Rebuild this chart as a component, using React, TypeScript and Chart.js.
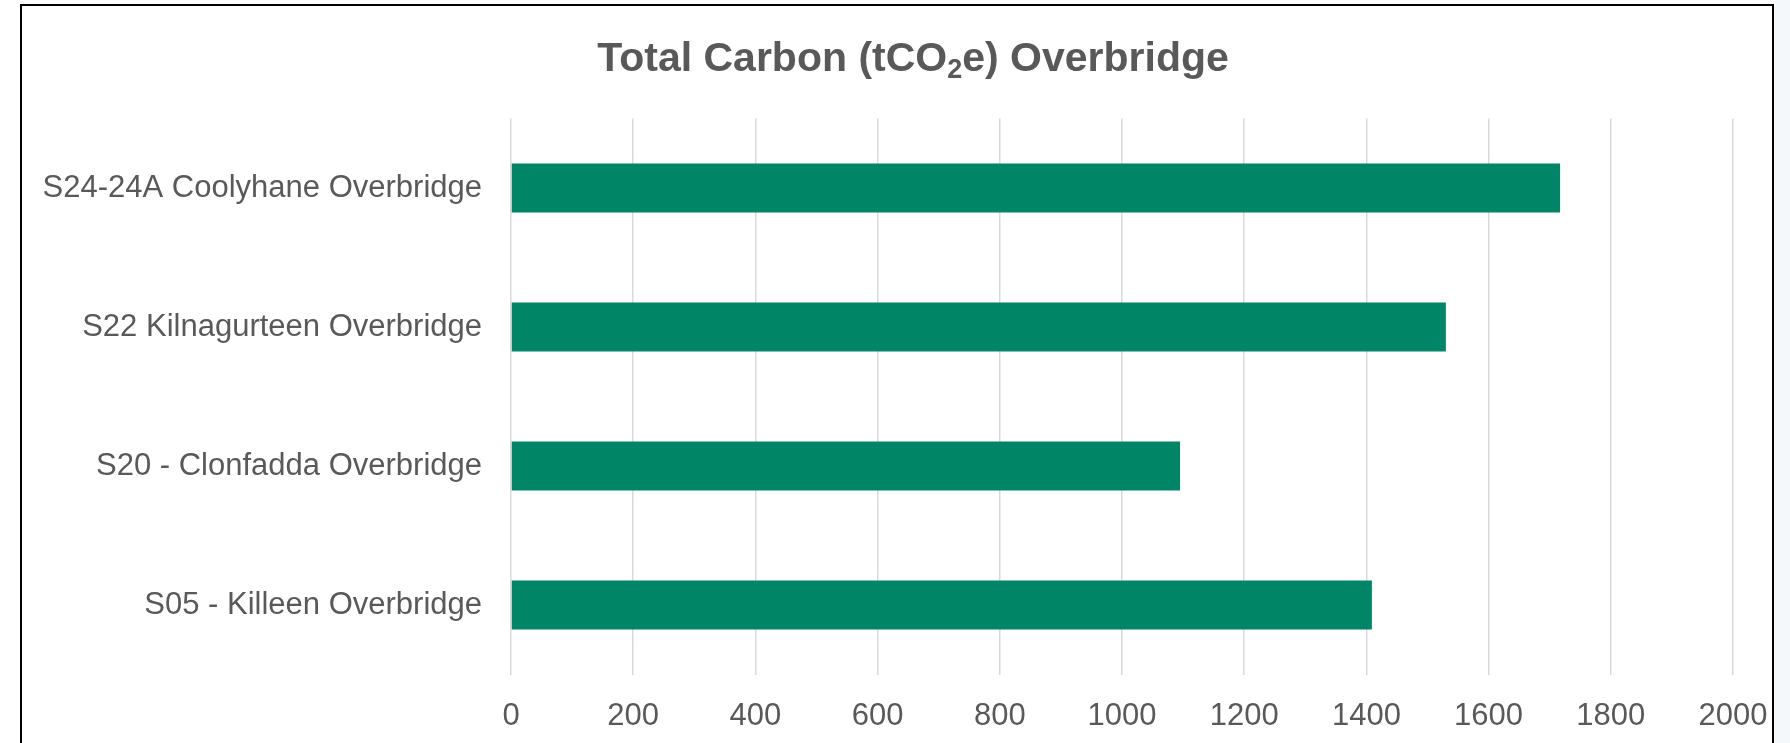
import React, { useEffect, useRef } from "react";
import { Chart, registerables } from "chart.js";

Chart.register(...registerables);

const categories: string[] = [
  "S24-24A Coolyhane Overbridge",
  "S22 Kilnagurteen Overbridge",
  "S20 - Clonfadda Overbridge",
  "S05 - Killeen Overbridge",
];
const totalCarbon: number[] = [1717, 1530, 1095, 1409];
const xTicks: number[] = [0, 200, 400, 600, 800, 1000, 1200, 1400, 1600, 1800, 2000];
const titleMain1 = "Total Carbon (tCO";
const titleSub = "2";
const titleMain2 = "e) Overbridge";

const FONT = '"Liberation Sans", Arial, sans-serif';
const TEXT = "#595959";
const BAR = "#008667";

const titlePlugin = {
  id: "subTitle",
  afterDraw(chart: any) {
    const ctx = chart.ctx as CanvasRenderingContext2D;
    ctx.save();
    ctx.fillStyle = TEXT;
    ctx.textBaseline = "alphabetic";
    ctx.textAlign = "left";
    const big = `bold 41px ${FONT}`;
    const small = `bold 27px ${FONT}`;
    ctx.font = big;
    const w1 = ctx.measureText(titleMain1).width;
    const w3 = ctx.measureText(titleMain2).width;
    ctx.font = small;
    const w2 = ctx.measureText(titleSub).width;
    const total = w1 + w2 + w3;
    const cx = 890;
    const base = 64;
    let x = cx - total / 2;
    ctx.font = big;
    ctx.fillText(titleMain1, x, base);
    x += w1;
    ctx.font = small;
    ctx.fillText(titleSub, x, base + 7);
    x += w2;
    ctx.font = big;
    ctx.fillText(titleMain2, x, base);
    ctx.restore();
  },
};

export default function App() {
  const ref = useRef<HTMLCanvasElement | null>(null);

  useEffect(() => {
    if (!ref.current) return;
    const chart = new Chart(ref.current, {
      type: "bar",
      data: {
        labels: categories,
        datasets: [
          {
            label: "Total Carbon",
            data: totalCarbon,
            backgroundColor: BAR,
            borderWidth: 0,
            barPercentage: 0.352,
            categoryPercentage: 1,
          },
        ],
      },
      options: {
        indexAxis: "y",
        responsive: false,
        animation: false,
        events: [],
        layout: { padding: { top: 111.5, right: 39, left: 0, bottom: 0 } },
        plugins: {
          legend: { display: false },
          title: { display: false },
          tooltip: { enabled: false },
        },
        scales: {
          x: {
            min: 0,
            max: 2000,
            afterBuildTicks: (s: any) => {
              s.ticks = xTicks.map((v) => ({ value: v }));
            },
            afterFit: (s: any) => {
              s.height = 68.5;
              s.paddingRight = 0;
              s.paddingLeft = 0;
            },
            grid: { color: "#d9d9d9", lineWidth: 1.5, drawTicks: false },
            border: { display: false },
            ticks: {
              color: TEXT,
              font: { family: FONT, size: 31 },
              padding: 23,
              maxRotation: 0,
              callback: (v: any) => String(v),
            },
          },
          y: {
            afterFit: (s: any) => {
              s.width = 488;
            },
            grid: { display: false, drawTicks: false },
            border: { display: false },
            ticks: {
              color: TEXT,
              font: { family: FONT, size: 31 },
              padding: 29,
            },
          },
        },
      },
      plugins: [titlePlugin],
    });
    return () => chart.destroy();
  }, []);

  return (
    <div
      style={{
        position: "fixed",
        left: 0,
        top: 0,
        width: 1790,
        height: 743,
        background: "#ffffff",
        overflow: "hidden",
      }}
    >
      <div
        style={{
          position: "absolute",
          left: 1774,
          top: 0,
          width: 16,
          height: 743,
          background: "#f4f8fb",
        }}
      />
      <div
        style={{
          position: "absolute",
          left: 20,
          top: 4,
          width: 1754,
          height: 800,
          border: "2px solid #000",
          boxSizing: "border-box",
        }}
      />
      <canvas
        ref={ref}
        width={1749}
        height={736}
        style={{ position: "absolute", left: 23, top: 7, width: 1749, height: 736 }}
      />
    </div>
  );
}
